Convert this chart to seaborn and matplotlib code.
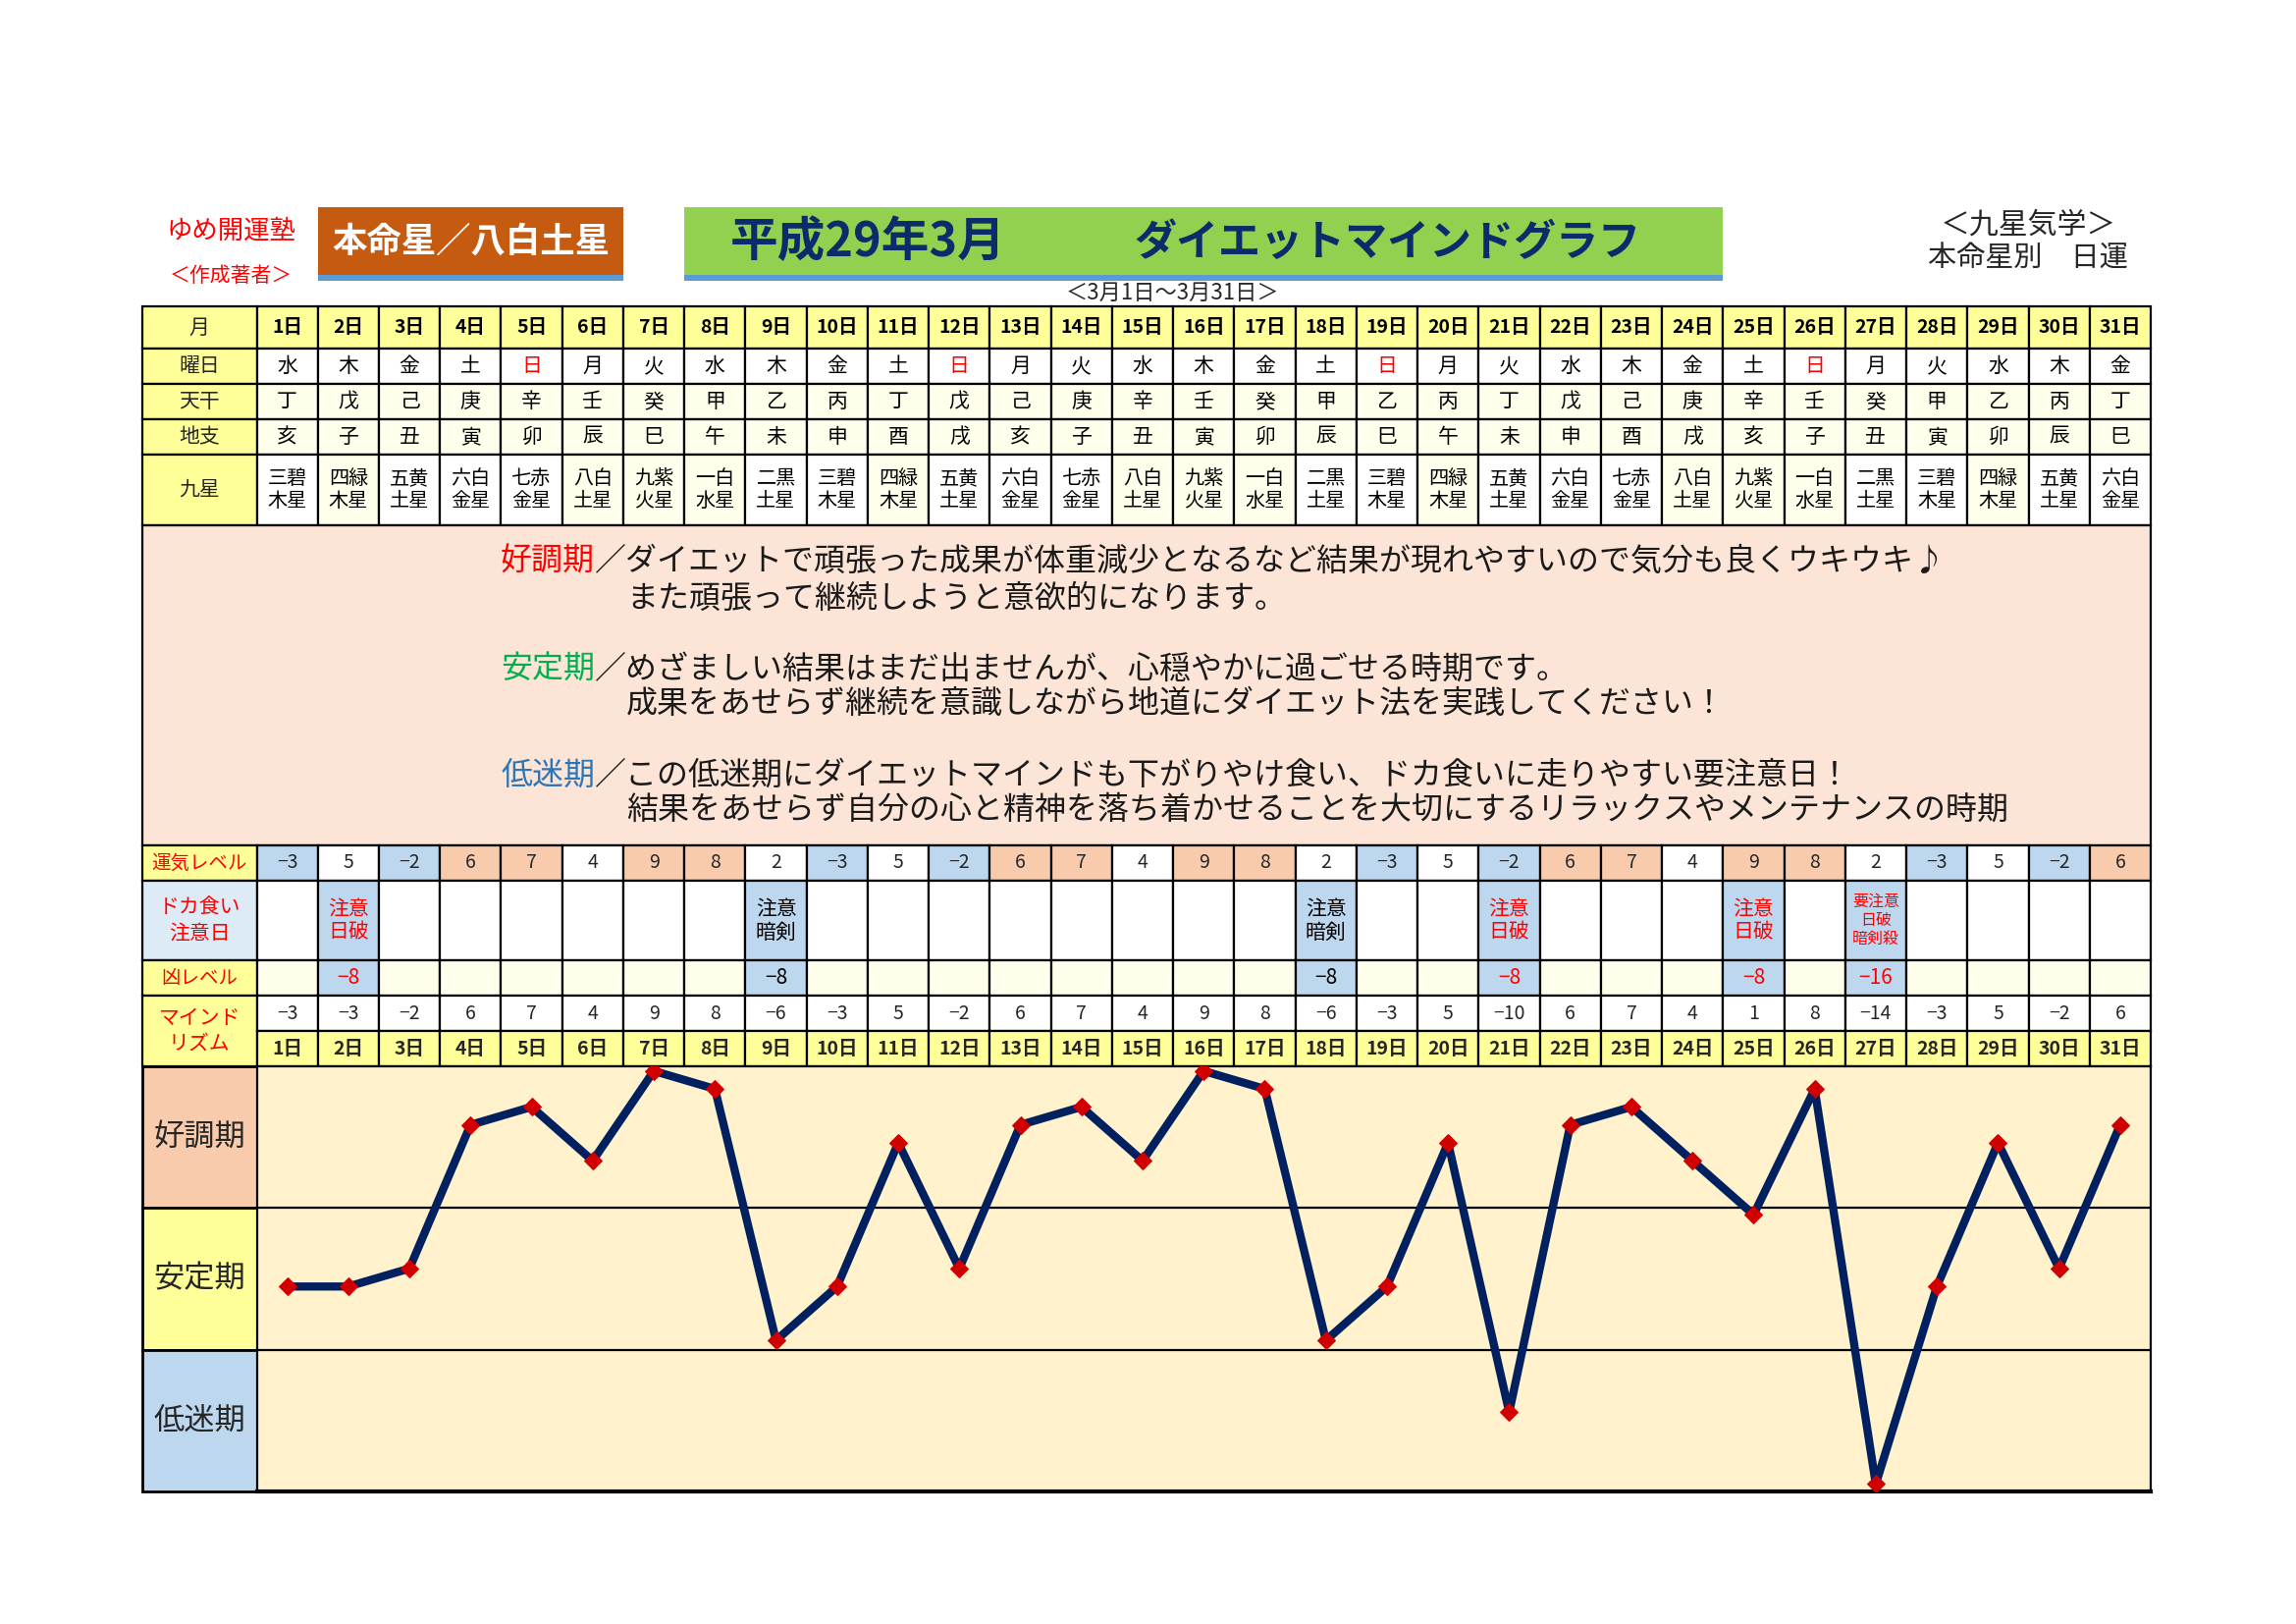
import numpy as np
import pandas as pd
import matplotlib
matplotlib.use('Agg')
import matplotlib.pyplot as plt
from matplotlib.patches import Rectangle
import seaborn as sns

# ---- data ----
days = list(range(1, 32))
weekdays = ['水', '木', '金', '土', '日', '月', '火', '水', '木', '金', '土', '日', '月', '火', '水', '木',
            '金', '土', '日', '月', '火', '水', '木', '金', '土', '日', '月', '火', '水', '木', '金']
tenkan = ['丁', '戊', '己', '庚', '辛', '壬', '癸', '甲', '乙', '丙', '丁', '戊', '己', '庚', '辛', '壬',
          '癸', '甲', '乙', '丙', '丁', '戊', '己', '庚', '辛', '壬', '癸', '甲', '乙', '丙', '丁']
chishi = ['亥', '子', '丑', '寅', '卯', '辰', '巳', '午', '未', '申', '酉', '戌', '亥', '子', '丑', '寅',
          '卯', '辰', '巳', '午', '未', '申', '酉', '戌', '亥', '子', '丑', '寅', '卯', '辰', '巳']
kyusei = ['三碧\n木星', '四緑\n木星', '五黄\n土星', '六白\n金星', '七赤\n金星', '八白\n土星', '九紫\n火星',
          '一白\n水星', '二黒\n土星', '三碧\n木星', '四緑\n木星', '五黄\n土星', '六白\n金星', '七赤\n金星',
          '八白\n土星', '九紫\n火星', '一白\n水星', '二黒\n土星', '三碧\n木星', '四緑\n木星', '五黄\n土星',
          '六白\n金星', '七赤\n金星', '八白\n土星', '九紫\n火星', '一白\n水星', '二黒\n土星', '三碧\n木星',
          '四緑\n木星', '五黄\n土星', '六白\n金星']
unki_level = [-3, 5, -2, 6, 7, 4, 9, 8, 2, -3, 5, -2, 6, 7, 4, 9, 8, 2, -3, 5, -2, 6, 7, 4, 9, 8, 2, -3, 5, -2, 6]
caution_text = {2: '注意\n日破', 9: '注意\n暗剣', 18: '注意\n暗剣', 21: '注意\n日破', 25: '注意\n日破',
                27: '要注意\n日破\n暗剣殺'}
kyo_level = {2: -8, 9: -8, 18: -8, 21: -8, 25: -8, 27: -16}
red_days = [2, 21, 25, 27]
mind_rhythm = [-3, -3, -2, 6, 7, 4, 9, 8, -6, -3, 5, -2, 6, 7, 4, 9, 8, -6, -3, 5, -10, 6, 7, 4, 1, 8, -14,
               -3, 5, -2, 6]
good_stars = ['四緑', '八白', '九紫', '一白']

notes = [
    ('好調期', '#FF0000', '／ダイエットで頑張った成果が体重減少となるなど結果が現れやすいので気分も良くウキウキ♪',
     'また頑張って継続しようと意欲的になります。'),
    ('安定期', '#00B050', '／めざましい結果はまだ出ませんが、心穏やかに過ごせる時期です。',
     '成果をあせらず継続を意識しながら地道にダイエット法を実践してください！'),
    ('低迷期', '#2E75B6', '／この低迷期にダイエットマインドも下がりやけ食い、ドカ食いに走りやすい要注意日！',
     '結果をあせらず自分の心と精神を落ち着かせることを大切にするリラックスやメンテナンスの時期'),
]

# ---- style ----
sns.set_style('white')
JP = ['Noto Sans CJK JP', 'DejaVu Sans']
plt.rcParams['font.family'] = JP

YELLOW = '#FFFF99'
PALE = '#FFFFEB'
BLUE = '#BDD7EE'
ORANGE = '#F8CBAD'

W, H = 2339, 1654
L, LC, R = 145, 261.5, 2191
CW = (R - LC) / 31


def fmt(v):
    return str(v).replace('-', '−')


def cell(ax, x0, y0, w, h, fc, lw=1.6):
    ax.add_patch(Rectangle((x0, y0), w, h, facecolor=fc, edgecolor='black', linewidth=lw, zorder=1))


def cx(i):
    return LC + (i + 0.5) * CW


fig = plt.figure(figsize=(W / 100, H / 100), dpi=100)
ax = fig.add_axes([0, 0, 1, 1])
ax.set_xlim(0, W)
ax.set_ylim(H, 0)
ax.axis('off')

# ---- header ----
ax.text(235, 235, 'ゆめ開運塾', color='#FF0000', fontsize=19, ha='center', va='center')
ax.text(235, 281, '＜作成著者＞', color='#FF0000', fontsize=15, ha='center', va='center')
ax.add_patch(Rectangle((324, 211), 311, 69, facecolor='#C55A11', edgecolor='none'))
ax.add_patch(Rectangle((324, 280), 311, 6, facecolor='#5B9BD5', edgecolor='none'))
ax.text(480, 246, '本命星／八白土星', color='white', fontsize=25.5, fontweight='bold', ha='center', va='center')
ax.add_patch(Rectangle((697, 211), 1058, 69, facecolor='#92D050', edgecolor='none'))
ax.add_patch(Rectangle((697, 280), 1058, 6, facecolor='#5B9BD5', edgecolor='none'))
ax.text(884, 247, '平成29年3月', color='#0D2A6B', fontsize=35, fontweight='bold', ha='center', va='center')
ax.text(1413, 247, 'ダイエットマインドグラフ', color='#0D2A6B', fontsize=31, fontweight='bold',
        ha='center', va='center')
ax.text(1194, 298, '＜3月1日～3月31日＞', fontsize=16, ha='center', va='center')
ax.text(2066, 229, '＜九星気学＞', fontsize=21.5, ha='center', va='center')
ax.text(2066, 264, '本命星別　日運', fontsize=21, ha='center', va='center')

# ---- upper table ----
top_rows = [('月', 312, 355), ('曜日', 355, 391), ('天干', 391, 427), ('地支', 427, 463), ('九星', 463, 535)]
for name, y0, y1 in top_rows:
    cell(ax, L, y0, LC - L, y1 - y0, YELLOW)
    ax.text((L + LC) / 2, (y0 + y1) / 2, name, fontsize=15, ha='center', va='center')
    for i in range(31):
        if name == '月':
            fc, txt, col, fw, fs = YELLOW, f'{days[i]}日', 'black', 'bold', 14
        elif name == '曜日':
            fc, txt, fw, fs = 'white', weekdays[i], 'normal', 15
            col = '#FF0000' if weekdays[i] == '日' else 'black'
        elif name == '天干':
            fc, txt, col, fw, fs = PALE, tenkan[i], 'black', 'normal', 15
        elif name == '地支':
            fc, txt, col, fw, fs = PALE, chishi[i], 'black', 'normal', 15
        else:
            fc = PALE if kyusei[i][:2] in good_stars else 'white'
            txt, col, fw, fs = kyusei[i], 'black', 'normal', 14.5
        cell(ax, LC + i * CW, y0, CW, y1 - y0, fc)
        ax.text(cx(i), (y0 + y1) / 2, txt, color=col, fontsize=fs, fontweight=fw,
                ha='center', va='center', linespacing=1.15)

# ---- explanation box ----
cell(ax, L, 535, R - L, 326, '#FCE4D6')
fs_note = 23
em = fs_note * 100 / 72
note_y = [(572, 610), (682, 717), (790, 825)]
for (label, color, rest, line2), (y1, y2) in zip(notes, note_y):
    t = ax.text(510, y1, label, color=color, fontsize=fs_note, ha='left', va='center')
    ax.annotate(rest, xy=(1, 0), xycoords=t, ha='left', va='bottom', fontsize=fs_note, color='#1A1A1A')
    ax.text(510 + 4 * em, y2, line2, fontsize=fs_note, ha='left', va='center', color='#1A1A1A')

# ---- lower table ----
# 運気レベル
y0, y1 = 861, 897
cell(ax, L, y0, LC - L, y1 - y0, YELLOW)
ax.text((L + LC) / 2, (y0 + y1) / 2, '運気レベル', color='#FF0000', fontsize=14, ha='center', va='center')
for i, v in enumerate(unki_level):
    fc = BLUE if v < 0 else (ORANGE if v >= 6 else 'white')
    cell(ax, LC + i * CW, y0, CW, y1 - y0, fc)
    ax.text(cx(i), (y0 + y1) / 2, fmt(v), fontsize=14, ha='center', va='center')

# ドカ食い注意日
y0, y1 = 897, 978
cell(ax, L, y0, LC - L, y1 - y0, '#DDEBF7')
ax.text((L + LC) / 2, (y0 + y1) / 2, 'ドカ食い\n注意日', color='#FF0000', fontsize=15,
        ha='center', va='center', linespacing=1.2)
for i, d in enumerate(days):
    txt = caution_text.get(d, '')
    cell(ax, LC + i * CW, y0, CW, y1 - y0, BLUE if txt else 'white')
    if txt:
        col = '#FF0000' if d in red_days else 'black'
        fs = 11.5 if txt.count('\n') == 2 else 15
        ax.text(cx(i), (y0 + y1) / 2, txt, color=col, fontsize=fs, ha='center', va='center', linespacing=1.15)

# 凶レベル
y0, y1 = 978, 1014
cell(ax, L, y0, LC - L, y1 - y0, YELLOW)
ax.text((L + LC) / 2, (y0 + y1) / 2, '凶レベル', color='#FF0000', fontsize=14, ha='center', va='center')
for i, d in enumerate(days):
    v = kyo_level.get(d)
    cell(ax, LC + i * CW, y0, CW, y1 - y0, BLUE if v is not None else PALE)
    if v is not None:
        col = '#FF0000' if d in red_days else 'black'
        ax.text(cx(i), (y0 + y1) / 2, fmt(v), color=col, fontsize=15, ha='center', va='center')

# マインドリズム
y0, ym, y1 = 1014, 1050, 1086
cell(ax, L, y0, LC - L, y1 - y0, YELLOW)
ax.text((L + LC) / 2, (y0 + y1) / 2, 'マインド\nリズム', color='#FF0000', fontsize=15,
        ha='center', va='center', linespacing=1.25)
for i, v in enumerate(mind_rhythm):
    cell(ax, LC + i * CW, y0, CW, ym - y0, 'white')
    ax.text(cx(i), (y0 + ym) / 2, fmt(v), fontsize=14, ha='center', va='center')
    cell(ax, LC + i * CW, ym, CW, y1 - ym, YELLOW)
    ax.text(cx(i), (ym + y1) / 2, f'{days[i]}日', fontsize=14, fontweight='bold', ha='center', va='center')

# ---- chart band labels ----
ch_top, ch_bot = 1086, 1519
band_h = (ch_bot - ch_top) / 3
for k, (name, fc) in enumerate([('好調期', ORANGE), ('安定期', YELLOW), ('低迷期', BLUE)]):
    yb = ch_top + k * band_h
    cell(ax, L, yb, LC - L, band_h, fc, lw=2)
    ax.text((L + LC) / 2, yb + band_h / 2, name, fontsize=22.5, ha='center', va='center')

# ---- chart ----
cax = fig.add_axes([LC / W, 1 - ch_bot / H, (R - LC) / W, (ch_bot - ch_top) / H])
cax.set_facecolor('#FFF2CC')
ymin, ymax = -14.41, 9.26
step = (ymax - ymin) / 3
for yb in [ymax - step, ymax - 2 * step]:
    cax.axhline(yb, color='black', linewidth=1.6, zorder=1)
df = pd.DataFrame({'day': days, 'mind': mind_rhythm})
sns.lineplot(data=df, x='day', y='mind', ax=cax, color='#002060', linewidth=6, marker='D',
             markersize=9, markerfacecolor='#D00000', markeredgecolor='#D00000', zorder=3)
cax.set_xlim(0.5, 31.5)
cax.set_ylim(ymin, ymax)
cax.set_xticks([])
cax.set_yticks([])
cax.set_xlabel('')
cax.set_ylabel('')
for side, sp in cax.spines.items():
    sp.set_visible(True)
    sp.set_color('black')
    sp.set_linewidth(3 if side == 'bottom' else 1.6)

fig.savefig('out.png', dpi=100, facecolor='white')
